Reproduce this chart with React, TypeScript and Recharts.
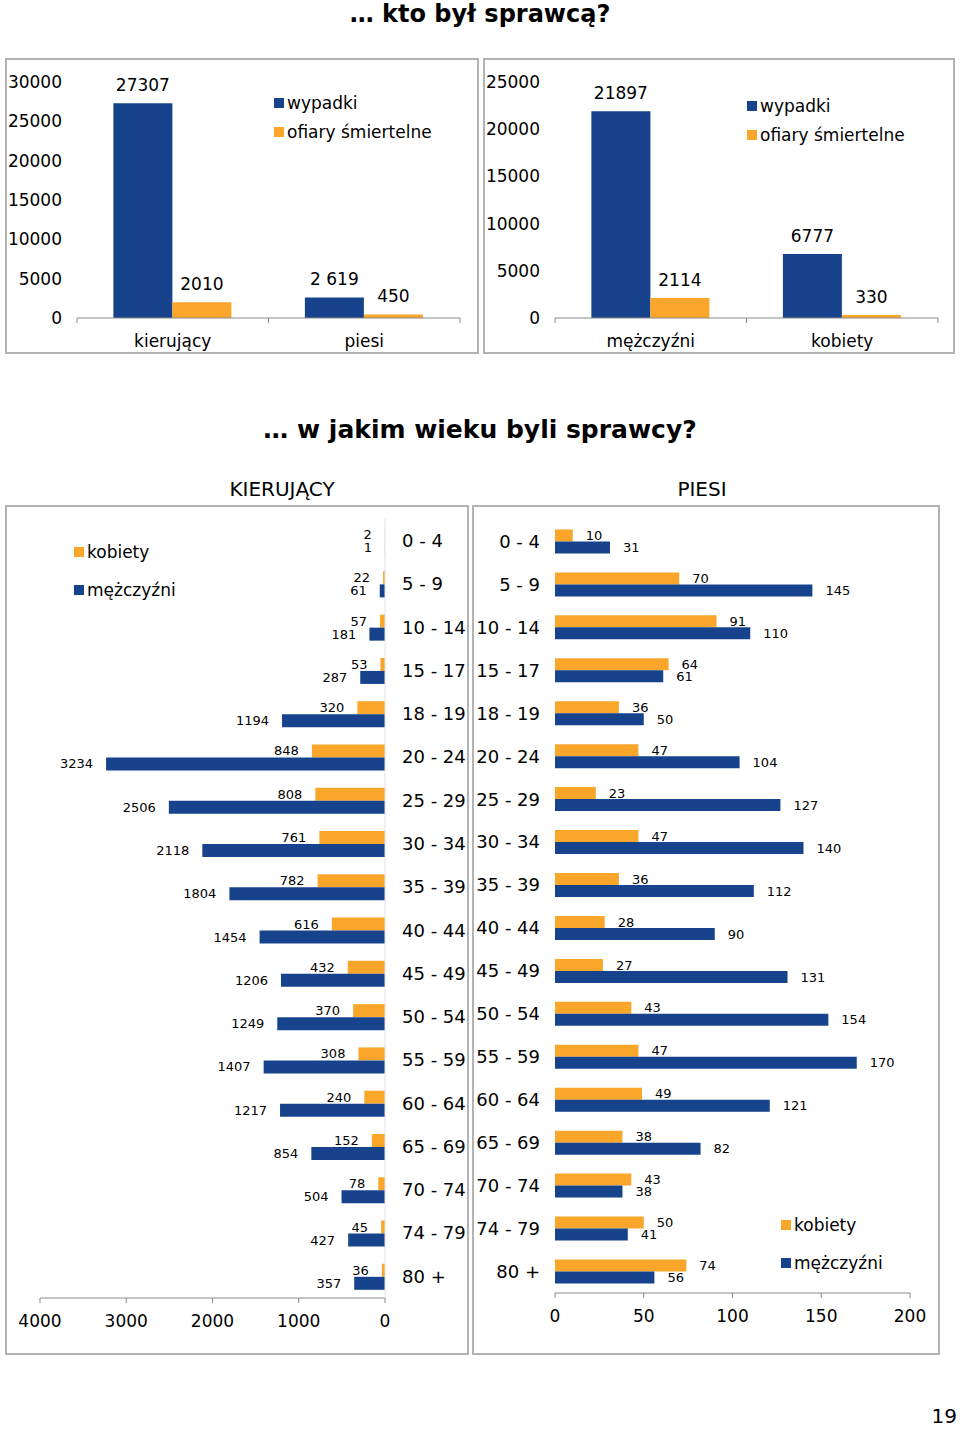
import React from "react";
import { BarChart, Bar, XAxis, YAxis, Legend, LabelList } from "recharts";

const BLUE = "#17428c";
const ORANGE = "#f9a62b";
const AXIS = "#8a8a8a";
const FONT = "'DejaVu Sans', Verdana, sans-serif";

// ... kto był sprawcą?
const perpCategories = ["kierujący", "piesi"];
const perpAccidents = [27307, 2619];
const perpAccidentLabels = ["27307", "2 619"];
const perpDeaths = [2010, 450];
const perpTicks = [0, 5000, 10000, 15000, 20000, 25000, 30000];

const sexCategories = ["mężczyźni", "kobiety"];
const sexAccidents = [21897, 6777];
const sexDeaths = [2114, 330];
const sexTicks = [0, 5000, 10000, 15000, 20000, 25000];

const topSeries = ["wypadki", "ofiary śmiertelne"];

// ... w jakim wieku byli sprawcy?
const ageGroups = [
  "0 - 4", "5 - 9", "10 - 14", "15 - 17", "18 - 19", "20 - 24",
  "25 - 29", "30 - 34", "35 - 39", "40 - 44", "45 - 49", "50 - 54",
  "55 - 59", "60 - 64", "65 - 69", "70 - 74", "74 - 79", "80 +",
];
const ageSeries = ["kobiety", "mężczyźni"];
const driversWomen = [2, 22, 57, 53, 320, 848, 808, 761, 782, 616, 432, 370, 308, 240, 152, 78, 45, 36];
const driversMen = [1, 61, 181, 287, 1194, 3234, 2506, 2118, 1804, 1454, 1206, 1249, 1407, 1217, 854, 504, 427, 357];
const driverTicks = [0, 1000, 2000, 3000, 4000];

const pedWomen = [10, 70, 91, 64, 36, 47, 23, 47, 36, 28, 27, 43, 47, 49, 38, 43, 50, 74];
const pedMen = [31, 145, 110, 61, 50, 104, 127, 140, 112, 90, 131, 154, 170, 121, 82, 38, 41, 56];
const pedTicks = [0, 50, 100, 150, 200];

const perpData = perpCategories.map((name, i) => ({
  name,
  wypadki: perpAccidents[i],
  wypadkiLabel: perpAccidentLabels[i],
  ofiary: perpDeaths[i],
}));
const sexData = sexCategories.map((name, i) => ({
  name,
  wypadki: sexAccidents[i],
  ofiary: sexDeaths[i],
}));
const driverData = ageGroups.map((name, i) => ({
  name,
  kobiety: driversWomen[i],
  mezczyzni: driversMen[i],
}));
const pedData = ageGroups.map((name, i) => ({
  name,
  kobiety: pedWomen[i],
  mezczyzni: pedMen[i],
}));

function Box({ left, top, width, height, children }: any) {
  return (
    <div
      style={{
        position: "absolute",
        left,
        top,
        width,
        height,
        border: "2px solid #b3b3b3",
        boxSizing: "border-box",
        background: "#fff",
      }}
    >
      {children}
    </div>
  );
}

// square-marker legend, one item per row, kept in series order
function SquareLegend(props: any) {
  const { payload = [], rowHeight = 29, order = [] } = props;
  const items = [...payload].sort((a: any, b: any) => order.indexOf(a.value) - order.indexOf(b.value));
  return (
    <div style={{ fontFamily: FONT, fontSize: 17, color: "#000" }}>
      {items.map((e: any) => (
        <div key={e.value} style={{ display: "flex", alignItems: "center", height: rowHeight, whiteSpace: "nowrap" }}>
          <span style={{ width: 10, height: 10, background: e.color, marginRight: 3, display: "inline-block" }} />
          <span>{e.value}</span>
        </div>
      ))}
    </div>
  );
}

// category tick with tick marks at band edges
function BandTick(props: any) {
  const { x, y, payload, bandHalf } = props;
  const half = payload && payload.offset ? payload.offset : bandHalf;
  return (
    <g>
      <line x1={x - half} x2={x - half} y1={y} y2={y + 5} stroke={AXIS} />
      <line x1={x + half} x2={x + half} y1={y} y2={y + 5} stroke={AXIS} />
      <text x={x} y={y + 23} textAnchor="middle" dominantBaseline="central" fontSize={17} fill="#000">
        {payload.value}
      </text>
    </g>
  );
}

// label beyond the far (left) end of a bar on a reversed axis
function LeftEndLabel(props: any) {
  const vb = props.viewBox ?? props;
  const x = Number(vb.x);
  const w = Number(vb.width);
  const y = Number(vb.y);
  const h = Number(vb.height);
  const end = Math.min(x, x + w);
  return (
    <text x={end - 13} y={y + h / 2} textAnchor="end" dominantBaseline="central" fontSize={13} fill="#000">
      {props.value}
    </text>
  );
}

function TopChart({ data, ticks, max, width, legendLeft, legendTop, accidentLabelKey }: any) {
  return (
    <BarChart
      width={width}
      height={292}
      data={data}
      margin={{ top: 22, right: width - 453, bottom: 0, left: 0 }}
      barCategoryGap="19%"
      barGap={0}
    >
      <XAxis
        dataKey="name"
        height={34}
        interval={0}
        axisLine={{ stroke: AXIS }}
        tickLine={false}
        tickSize={0}
        tickMargin={0}
        tick={<BandTick bandHalf={(453 - 70) / data.length / 2} />}
      />
      <YAxis
        width={70}
        domain={[0, max]}
        ticks={ticks}
        interval={0}
        axisLine={false}
        tickLine={false}
        tickMargin={9}
        tick={{ fontSize: 17, fill: "#000" }}
      />
      <Legend
        layout="vertical"
        align="center"
        verticalAlign="middle"
        wrapperStyle={{ left: legendLeft, top: legendTop, width: "auto" }}
        content={<SquareLegend rowHeight={29} order={topSeries} />}
      />
      <Bar dataKey="wypadki" name={topSeries[0]} fill={BLUE} isAnimationActive={false}>
        <LabelList dataKey={accidentLabelKey} position="top" offset={12} fontSize={17} fill="#000" />
      </Bar>
      <Bar dataKey="ofiary" name={topSeries[1]} fill={ORANGE} isAnimationActive={false}>
        <LabelList dataKey="ofiary" position="top" offset={12} fontSize={17} fill="#000" />
      </Bar>
    </BarChart>
  );
}

export default function App() {
  const text = (style: any, content: string) => (
    <div style={{ position: "absolute", textAlign: "center", whiteSpace: "nowrap", ...style }}>{content}</div>
  );
  return (
    <div
      style={{
        position: "absolute",
        left: 0,
        top: 0,
        width: 960,
        height: 1430,
        background: "#fff",
        fontFamily: FONT,
        color: "#000",
        overflow: "hidden",
      }}
    >
      {text({ left: 0, top: 0, width: 960, fontSize: 24, lineHeight: "28px", fontWeight: "bold" }, "… kto był sprawcą?")}

      <Box left={5} top={58} width={474} height={296}>
        <TopChart data={perpData} ticks={perpTicks} max={30000} width={470} legendLeft={267} legendTop={28} accidentLabelKey="wypadkiLabel" />
      </Box>
      <Box left={483} top={58} width={472} height={296}>
        <TopChart data={sexData} ticks={sexTicks} max={25000} width={468} legendLeft={262} legendTop={31} accidentLabelKey="wypadki" />
      </Box>

      {text({ left: 0, top: 415, width: 960, fontSize: 25, lineHeight: "30px", fontWeight: "bold" }, "… w jakim wieku byli sprawcy?")}
      {text({ left: 182, top: 477, width: 200, fontSize: 20, lineHeight: "24px" }, "KIERUJĄCY")}
      {text({ left: 602, top: 477, width: 200, fontSize: 20, lineHeight: "24px" }, "PIESI")}

      <Box left={5} top={505} width={464} height={850}>
        <BarChart
          width={460}
          height={846}
          data={driverData}
          layout="vertical"
          margin={{ top: 12, right: 0, bottom: 0, left: 33 }}
          barCategoryGap="21%"
          barGap={0}
        >
          <XAxis
            type="number"
            reversed
            domain={[0, 4000]}
            ticks={driverTicks}
            interval={0}
            height={55}
            axisLine={{ stroke: AXIS }}
            tickLine={{ stroke: AXIS }}
            tickSize={5}
            tickMargin={12}
            tick={{ fontSize: 17, fill: "#000" }}
          />
          <YAxis
            type="category"
            dataKey="name"
            orientation="right"
            width={82}
            interval={0}
            axisLine={{ stroke: "#e2e2e2" }}
            tickLine={false}
            tickMargin={11}
            tick={{ fontSize: 18, fill: "#000" }}
          />
          <Legend
            layout="vertical"
            align="center"
            verticalAlign="middle"
            wrapperStyle={{ left: 67, top: 26, width: "auto" }}
            content={<SquareLegend rowHeight={38} order={ageSeries} />}
          />
          <Bar dataKey="kobiety" name={ageSeries[0]} fill={ORANGE} isAnimationActive={false}>
            <LabelList dataKey="kobiety" content={<LeftEndLabel />} />
          </Bar>
          <Bar dataKey="mezczyzni" name={ageSeries[1]} fill={BLUE} isAnimationActive={false}>
            <LabelList dataKey="mezczyzni" content={<LeftEndLabel />} />
          </Bar>
        </BarChart>
      </Box>

      <Box left={472} top={505} width={468} height={850}>
        <BarChart
          width={464}
          height={846}
          data={pedData}
          layout="vertical"
          margin={{ top: 13, right: 28, bottom: 0, left: 0 }}
          barCategoryGap="22%"
          barGap={0}
        >
          <XAxis
            type="number"
            domain={[0, 200]}
            ticks={pedTicks}
            interval={0}
            height={60}
            axisLine={{ stroke: AXIS }}
            tickLine={{ stroke: AXIS }}
            tickSize={5}
            tickMargin={12}
            tick={{ fontSize: 17, fill: "#000" }}
          />
          <YAxis
            type="category"
            dataKey="name"
            width={81}
            interval={0}
            axisLine={false}
            tickLine={false}
            tickMargin={9}
            tick={{ fontSize: 18, fill: "#000" }}
          />
          <Legend
            layout="vertical"
            align="center"
            verticalAlign="middle"
            wrapperStyle={{ left: 307, top: 699, width: "auto" }}
            content={<SquareLegend rowHeight={38} order={ageSeries} />}
          />
          <Bar dataKey="kobiety" name={ageSeries[0]} fill={ORANGE} isAnimationActive={false}>
            <LabelList dataKey="kobiety" position="right" offset={13} fontSize={13} fill="#000" />
          </Bar>
          <Bar dataKey="mezczyzni" name={ageSeries[1]} fill={BLUE} isAnimationActive={false}>
            <LabelList dataKey="mezczyzni" position="right" offset={13} fontSize={13} fill="#000" />
          </Bar>
        </BarChart>
      </Box>

      {text({ left: 880, top: 1404, width: 77, fontSize: 20, lineHeight: "24px", textAlign: "right" }, "19")}
    </div>
  );
}
